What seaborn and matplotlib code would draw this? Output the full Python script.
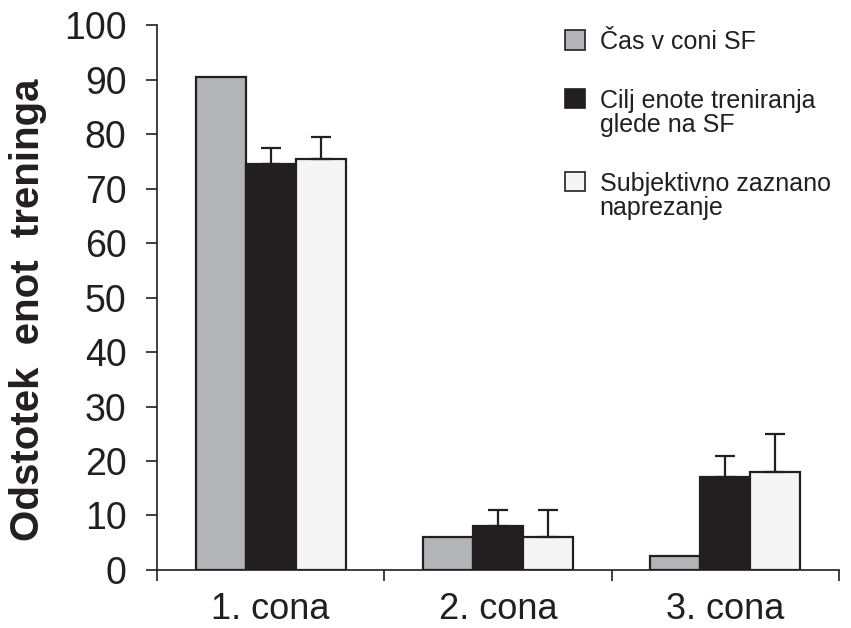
import matplotlib
matplotlib.use("Agg")
import matplotlib.pyplot as plt
import seaborn as sns
import pandas as pd
from matplotlib.ticker import FixedLocator
from matplotlib.legend_handler import HandlerPatch
from matplotlib.patches import Rectangle

categories = ["1. cona", "2. cona", "3. cona"]
series = ["Čas v coni SF", "Cilj enote treniranja\nglede na SF", "Subjektivno zaznano\nnaprezanje"]
cas_v_coni = [90.5, 6, 2.5]
cilj_enote = [74.5, 8, 17]
subjektivno = [75.5, 6, 18]
err_cas = [0, 0, 0]
err_cilj = [3, 3, 4]
err_subj = [4, 5, 7]
colors = ["#b3b4b8", "#231f20", "#f5f5f5"]
yticks = [0, 10, 20, 30, 40, 50, 60, 70, 80, 90, 100]

sns.set_theme(style="white")
plt.rcParams["font.family"] = ["Liberation Sans", "DejaVu Sans"]

values = [cas_v_coni, cilj_enote, subjektivno]
errs = [err_cas, err_cilj, err_subj]
rows = []
for s, vals in zip(series, values):
    for c, v in zip(categories, vals):
        rows.append({"cona": c, "serija": s, "odstotek": v})
df = pd.DataFrame(rows)

fig = plt.figure(figsize=(8.51, 6.28), dpi=100)
ax = fig.add_axes([0.1845, 0.0924, 0.986 - 0.1845, 0.960 - 0.0924])

sns.barplot(data=df, x="cona", y="odstotek", hue="serija", hue_order=series,
            palette=colors, width=0.66, gap=0, errorbar=None,
            edgecolor="#231f20", linewidth=1.6, saturation=1, ax=ax)

for cont, e in zip(ax.containers, errs):
    xs = [b.get_x() + b.get_width() / 2 for b in cont]
    hs = [b.get_height() for b in cont]
    for x, h, ee in zip(xs, hs, e):
        if ee > 0:
            ax.errorbar([x], [h], yerr=[[0], [ee]], fmt="none", ecolor="#231f20",
                        elinewidth=1.6, capsize=7, capthick=1.6, zorder=1)

ax.set_xlim(-0.5, 2.5)
ax.set_ylim(0, 100)
ax.set_yticks(yticks)
ax.set_yticklabels([str(t) for t in yticks], fontsize=27, color="#231f20")
ax.set_xticks(range(len(categories)))
ax.set_xticklabels(categories, fontsize=26, color="#231f20")
ax.xaxis.set_minor_locator(FixedLocator([-0.5, 0.5, 1.5, 2.5]))
ax.tick_params(axis="x", which="major", length=0, pad=16)
ax.tick_params(axis="x", which="minor", length=8, width=1.2, color="#231f20", direction="out", bottom=True)
ax.tick_params(axis="y", which="major", length=8, width=1.2, color="#231f20", direction="out", left=True, pad=14)
ax.set_xlabel("")
ax.set_ylabel("Odstotek  enot  treninga", fontsize=29, fontweight="bold", color="#231f20")
ax.yaxis.set_label_coords(-0.162, 0.477)

for sp in ["top", "right"]:
    ax.spines[sp].set_visible(False)
for sp in ["left", "bottom"]:
    ax.spines[sp].set_color("#231f20")
    ax.spines[sp].set_linewidth(1.2)


def make_patch(legend, orig_handle, xdescent, ydescent, width, height, fontsize):
    label = orig_handle.get_label()
    shift = 0.6 * fontsize if "\n" in label else 0
    return Rectangle((-xdescent, -ydescent + shift), width, height)


handles, labels = ax.get_legend_handles_labels()
for h, l in zip(handles, labels):
    h.set_label(l)
leg = ax.legend(handles, labels, loc="upper left", bbox_to_anchor=(0.583, 1.01), frameon=False,
                fontsize=18, handlelength=0.8, handleheight=0.8, handletextpad=0.6,
                labelspacing=1.4, borderaxespad=0,
                handler_map={h: HandlerPatch(patch_func=make_patch) for h in handles})
for t in leg.get_texts():
    t.set_color("#231f20")
    t.set_linespacing(1.0)
for h in leg.legend_handles:
    h.set_edgecolor("#231f20")
    h.set_linewidth(1.2)

fig.savefig("out.png", dpi=100)
